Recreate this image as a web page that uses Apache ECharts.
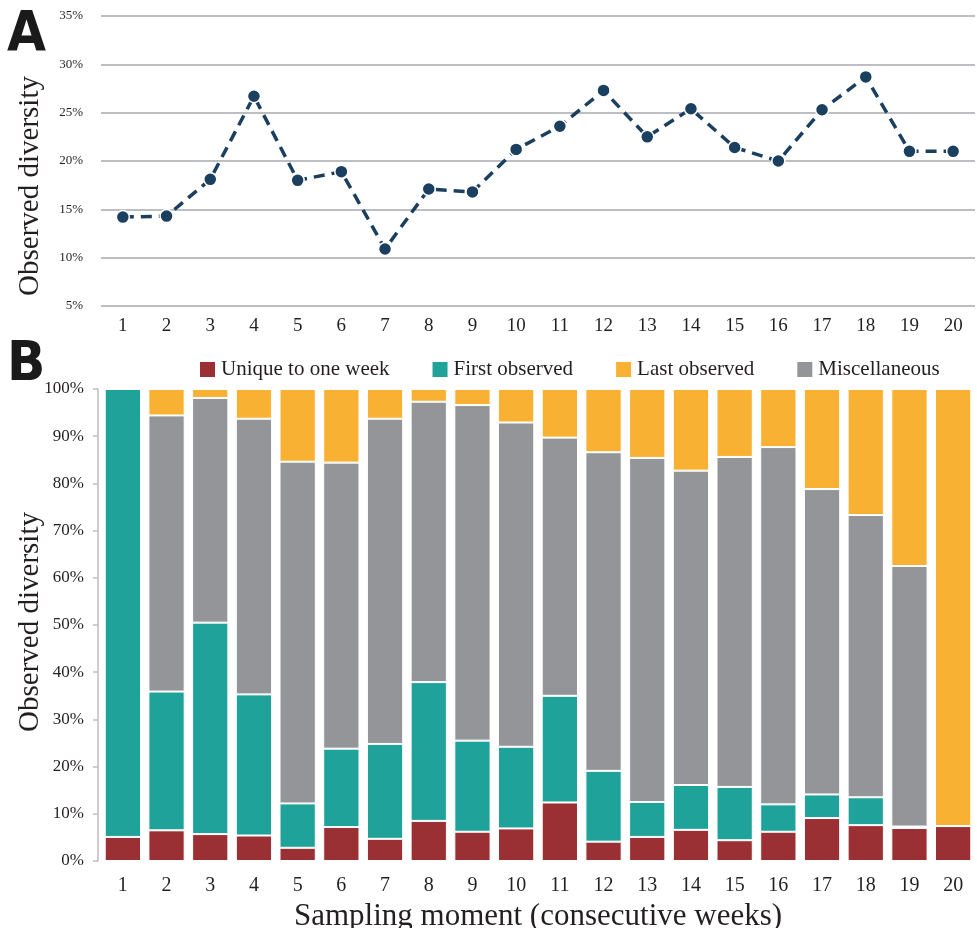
<!DOCTYPE html>
<html>
<head>
<meta charset="utf-8">
<title>Observed diversity</title>
<script src="https://cdn.jsdelivr.net/npm/echarts@6/dist/echarts.min.js"></script>
<style>
  html, body { margin: 0; padding: 0; background: #fff; }
  #main { width: 977px; height: 928px; }
</style>
</head>
<body>
<div id="main"></div>
<script>
// Data
var weeks = ['1', '2', '3', '4', '5', '6', '7', '8', '9', '10',
  '11', '12', '13', '14', '15', '16', '17', '18', '19', '20'];

// panel A, observed diversity per week (%)
var diversity = [14.2, 14.3, 18.1, 26.7, 18.0, 18.9, 10.9, 17.1, 16.8, 21.2,
  23.6, 27.3, 22.5, 25.4, 21.4, 20.0, 25.3, 28.7, 21.0, 21.0];

// panel B, stacked shares (%)
var uniqueWeek = [5.1, 6.5, 5.7, 5.4, 2.8, 7.2, 4.7, 8.5, 6.2, 6.9,
  12.4, 4.1, 5.1, 6.6, 4.4, 6.2, 9.1, 7.6, 7.0, 7.4];
var firstObserved = [94.9, 29.4, 44.8, 29.9, 9.4, 16.6, 20.1, 29.4, 19.3, 17.3,
  22.6, 15.0, 7.4, 9.5, 11.3, 5.8, 5.0, 5.9, 0.3, 0];
var miscellaneous = [0, 58.5, 47.6, 58.4, 72.4, 60.6, 68.9, 59.4, 71.1, 68.7,
  54.7, 67.5, 72.9, 66.6, 69.9, 75.7, 64.7, 59.8, 55.2, 0];
var lastObserved = [0, 5.6, 1.9, 6.3, 15.4, 15.6, 6.3, 2.7, 3.4, 7.1,
  10.3, 13.4, 14.6, 17.3, 14.4, 12.3, 21.2, 26.7, 37.5, 92.6];

var serif = '"Liberation Serif", "DejaVu Serif", serif';
var heavy = '"Liberation Sans Narrow", "DejaVu Sans Condensed", sans-serif';
var textColor = '#231f20';

/**
 * @name barSeries
 * @desc one stacked bar series for panel B
 * @param {string} name legend name
 * @param {array} data values
 * @param {string} color fill
 * @return {object} series option
 */
function barSeries(name, data, color) {
  return {
    name: name,
    type: 'bar',
    stack: 'share',
    xAxisIndex: 1,
    yAxisIndex: 1,
    barCategoryGap: '17%',
    itemStyle: {
      color: color,
      borderColor: '#fff',
      borderWidth: 1
    },
    data: data
  };
}

/**
 * @name paint
 * @desc build both panels on the chart div
 * @return {void}
 */
function paint() {
  var myChart = echarts.init(document.getElementById('main'));

  var option = {
    animation: false,
    backgroundColor: '#fff',
    textStyle: { fontFamily: serif },
    graphic: [
      {
        type: 'text', left: 7, top: 7,
        style: { text: 'A', fontSize: 56, fontWeight: 900, fontFamily: heavy, fill: '#1a1a1a' }
      },
      {
        type: 'text', left: 7, top: 337,
        style: { text: 'B', fontSize: 56, fontWeight: 900, fontFamily: heavy, fill: '#1a1a1a' }
      },
      {
        type: 'text', x: 30, y: 186, rotation: Math.PI / 2,
        style: { text: 'Observed diversity', fontSize: 29, fontFamily: serif, fill: textColor, align: 'center', verticalAlign: 'middle' }
      },
      {
        type: 'text', x: 30, y: 622, rotation: Math.PI / 2,
        style: { text: 'Observed diversity', fontSize: 29, fontFamily: serif, fill: textColor, align: 'center', verticalAlign: 'middle' }
      }
    ],
    legend: {
      left: 193,
      top: 354,
      icon: 'rect',
      itemWidth: 17,
      itemHeight: 17,
      itemGap: 41,
      textStyle: { fontSize: 21, fontFamily: serif, color: textColor },
      data: ['Unique to one week', 'First observed', 'Last observed', 'Miscellaneous']
    },
    grid: [
      { left: 101, right: 2, top: 16, height: 290, outerBoundsMode: 'none' },
      { left: 101, right: 2, top: 389, height: 472, outerBoundsMode: 'none' }
    ],
    xAxis: [
      {
        type: 'category',
        gridIndex: 0,
        data: weeks,
        axisLine: { show: false },
        axisTick: { show: false },
        axisLabel: { fontSize: 19, color: textColor, margin: 11 }
      },
      {
        type: 'category',
        gridIndex: 1,
        data: weeks,
        name: 'Sampling moment (consecutive weeks)',
        nameLocation: 'middle',
        nameGap: 34,
        nameTextStyle: { fontSize: 31, color: textColor, fontFamily: serif },
        axisLine: { show: false },
        axisTick: { show: false },
        axisLabel: { fontSize: 20, color: textColor, margin: 15 }
      }
    ],
    yAxis: [
      {
        type: 'value',
        gridIndex: 0,
        min: 5,
        max: 35,
        interval: 5,
        axisLine: { show: false },
        axisTick: { show: false },
        splitLine: { lineStyle: { color: '#a7a9ac', width: 1.5 } },
        axisLabel: { formatter: '{value}%', fontSize: 13, color: textColor, margin: 18 }
      },
      {
        type: 'value',
        gridIndex: 1,
        min: 0,
        max: 100,
        interval: 10,
        offset: 3,
        axisLine: { show: true, lineStyle: { color: '#bcbec0', width: 1.5 } },
        axisTick: { show: true, length: 5, lineStyle: { color: '#bcbec0', width: 1.5 } },
        splitLine: { show: false },
        axisLabel: { formatter: '{value}%', fontSize: 17, color: textColor, margin: 14 }
      }
    ],
    series: [
      {
        name: 'Observed diversity',
        type: 'line',
        xAxisIndex: 0,
        yAxisIndex: 0,
        symbol: 'circle',
        symbolSize: 13,
        lineStyle: { color: '#1b3f5e', width: 3.5, type: [11, 7] },
        itemStyle: { color: '#1b3f5e', borderColor: '#fff', borderWidth: 1.5 },
        data: diversity
      },
      barSeries('Unique to one week', uniqueWeek, '#9a3034'),
      barSeries('First observed', firstObserved, '#1ea29a'),
      barSeries('Miscellaneous', miscellaneous, '#939598'),
      barSeries('Last observed', lastObserved, '#f8b133')
    ]
  };

  myChart.setOption(option);
}

paint();
</script>
</body>
</html>
